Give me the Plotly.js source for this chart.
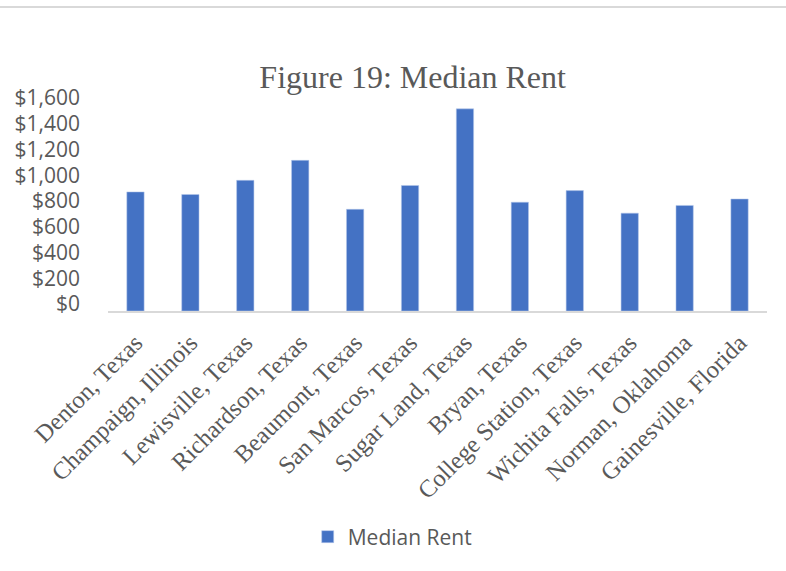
<!DOCTYPE html>
<html>
<head>
<meta charset="utf-8">
<script src="https://cdn.plot.ly/plotly-3.0.1.min.js"></script>
<style>
  html, body { margin: 0; padding: 0; background: #fff; }
  #wrap { position: relative; width: 786px; height: 571px; }
  #topline { position: absolute; left: 0; top: 6px; width: 786px; height: 2px; background: #d9d9d9; z-index: 5; }
  #chart { width: 786px; height: 571px; }
</style>
</head>
<body>
<div id="wrap">
  <div id="topline"></div>
  <div id="chart"></div>
</div>
<script>
const cities = [
  "Denton, Texas", "Champaign, Illinois", "Lewisville, Texas", "Richardson, Texas",
  "Beaumont, Texas", "San Marcos, Texas", "Sugar Land, Texas", "Bryan, Texas",
  "College Station, Texas", "Wichita Falls, Texas", "Norman, Oklahoma", "Gainesville, Florida"
];
const medianRent = [925, 905, 1015, 1170, 790, 975, 1570, 845, 935, 760, 820, 870];
const seriesName = "Median Rent";
const yTickValues = [0, 200, 400, 600, 800, 1000, 1200, 1400, 1600];
const yTickLabels = ["$0", "$200", "$400", "$600", "$800", "$1,000", "$1,200", "$1,400", "$1,600"];

const trace = {
  type: "bar",
  x: cities,
  y: medianRent,
  name: seriesName,
  marker: { color: "#4472C4", line: { color: "rgba(180,200,235,0.9)", width: 0.6 } },
  showlegend: true,
  hoverinfo: "x+y"
};

const layout = {
  width: 786,
  height: 571,
  paper_bgcolor: "#ffffff",
  plot_bgcolor: "#ffffff",
  margin: { l: 108, r: 19, t: 105, b: 260, pad: 0 },
  bargap: 0.685,
  title: {
    text: "Figure 19: Median Rent",
    font: { family: "Liberation Serif, Times New Roman, serif", size: 32, color: "#595959" },
    xref: "container", yref: "container",
    x: 0.525, xanchor: "center",
    y: 0.866, yanchor: "middle"
  },
  xaxis: {
    type: "category",
    tickangle: -45,
    tickfont: { family: "Liberation Serif, Times New Roman, serif", size: 24.5, color: "#595959" },
    showgrid: false,
    zeroline: false,
    showline: true,
    linecolor: "#d9d9d9",
    linewidth: 1.5,
    ticks: "",
    ticklabelstandoff: 6,
    automargin: false,
    fixedrange: true
  },
  yaxis: {
    range: [0, 1600],
    tickvals: yTickValues,
    ticktext: yTickLabels,
    tickfont: { family: "Open Sans, Liberation Sans, sans-serif", size: 21, color: "#595959" },
    showgrid: false,
    zeroline: false,
    showline: false,
    ticks: "",
    ticklabelstandoff: 27,
    ticklabelshift: -7,
    automargin: false,
    fixedrange: true
  },
  showlegend: true,
  legend: {
    orientation: "h",
    xref: "container", yref: "container",
    x: 0.499, xanchor: "center",
    y: 1 - 537 / 571, yanchor: "middle",
    font: { family: "Open Sans, Liberation Sans, sans-serif", size: 21, color: "#595959" },
    bgcolor: "rgba(0,0,0,0)"
  }
};

Plotly.newPlot("chart", [trace], layout, { displayModeBar: false, responsive: false });
</script>
</body>
</html>
